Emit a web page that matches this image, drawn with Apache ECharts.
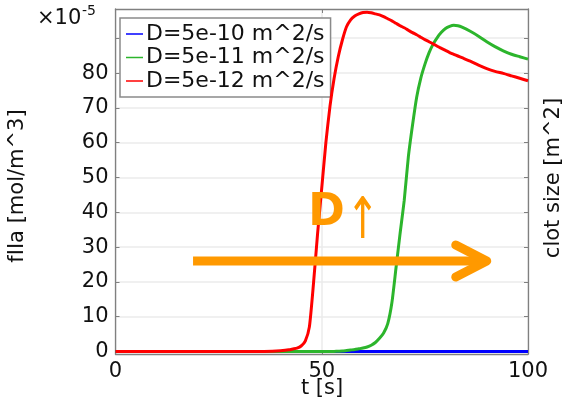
<!DOCTYPE html>
<html>
<head>
<meta charset="utf-8">
<script src="https://cdn.jsdelivr.net/npm/echarts@6/dist/echarts.min.js"></script>
<style>
  html, body { margin: 0; padding: 0; background: #fff; }
  #chart { width: 566px; height: 405px; }
</style>
</head>
<body>
<div id="chart"></div>
<script>
// Time samples (s)
const times = [0, 10, 20, 30, 36, 38, 40, 42, 43, 44, 45, 46, 47, 48, 49, 50, 51, 52, 53, 54, 55, 56, 57, 58, 59, 60, 61, 62, 63, 64, 65, 66, 67, 68, 69, 70, 71, 72, 73, 74, 75, 76, 77, 78, 79, 80, 81, 82, 83, 84, 86, 88, 90, 92, 94, 96, 98, 100];

// fIIa concentration, in units of 1e-5 mol/m^3
const fIIa_D5e10 = times.map(() => 0);
const fIIa_D5e11 = [0, 0, 0, 0, 0, 0, 0, 0, 0, 0, 0, 0, 0, 0, 0, 0, 0, 0, 0.05, 0.1, 0.15, 0.3, 0.45, 0.6, 0.8, 1.0, 1.3, 1.8, 2.6, 3.8, 5.3, 8.0, 14, 24, 34, 43.5, 56, 65, 73, 78.5, 82.5, 85.8, 88.3, 90.2, 91.7, 92.8, 93.4, 93.7, 93.6, 93.2, 92.0, 90.6, 89.0, 87.6, 86.4, 85.4, 84.7, 84.0];
const fIIa_D5e12 = [0, 0, 0, 0, 0.05, 0.1, 0.25, 0.5, 0.75, 1.0, 1.6, 3.0, 7.1, 19.6, 34, 47, 60, 70.5, 78.5, 84.7, 89.5, 93.3, 95.3, 96.4, 97.0, 97.4, 97.5, 97.3, 97.0, 96.7, 96.2, 95.6, 95.0, 94.3, 93.6, 93.0, 92.3, 91.6, 91.0, 90.3, 89.6, 89.0, 88.4, 87.7, 87.1, 86.5, 85.9, 85.4, 84.9, 84.4, 83.4, 82.3, 81.3, 80.5, 79.9, 79.2, 78.5, 77.8];

const seriesNames = ['D=5e-10 m^2/s', 'D=5e-11 m^2/s', 'D=5e-12 m^2/s'];
const seriesColors = ['#0000ff', '#2cb52c', '#ff0000'];

// Axis ticks
const xTicks = [0, 50, 100];
const yTicks = [0, 10, 20, 30, 40, 50, 60, 70, 80, 90];
const yTickLabels = [0, 10, 20, 30, 40, 50, 60, 70, 80];

// Annotation: arrow showing the direction of increasing D (data coordinates)
const arrowFrom = [18.8, 26.0];
const arrowTo = [90.0, 26.0];
const dLabelAt = [46.7, 39.5];

const FONT = 'DejaVu Sans';
const AXIS_GRAY = '#808080';
const chart = echarts.init(document.getElementById('chart'), null, { renderer: 'canvas' });

const pairs = (vals) => times.map((t, i) => [t, vals[i]]);
const allSeries = [fIIa_D5e10, fIIa_D5e11, fIIa_D5e12];

chart.setOption({
  animation: false,
  backgroundColor: '#ffffff',
  textStyle: { fontFamily: FONT },
  grid: { left: 115.5, right: 38, top: 9, bottom: 51, containLabel: false },
  legend: {
    orient: 'vertical',
    left: 120, top: 18,
    data: seriesNames,
    icon: 'rect',
    itemWidth: 17, itemHeight: 1.5,
    itemGap: 1.5,
    padding: [5, 6, 5, 6],
    backgroundColor: '#ffffff',
    borderColor: '#8a8a8a', borderWidth: 1.5, borderRadius: 0,
    textStyle: { fontFamily: FONT, fontSize: 22, color: '#111', lineHeight: 22, padding: [0, 0, 0, -2] }
  },
  xAxis: [
    {
      type: 'value', min: 0, max: 100, interval: 50, position: 'bottom',
      axisLine: { show: true, onZero: false, lineStyle: { color: AXIS_GRAY, width: 1.3 } },
      axisTick: { show: true, inside: true, length: 4, lineStyle: { color: AXIS_GRAY } },
      axisLabel: { fontFamily: FONT, fontSize: 21, color: '#111', margin: 7 },
      splitLine: { show: true, lineStyle: { color: '#ebebeb', width: 1.5 } }
    },
    {
      type: 'value', min: 0, max: 100, interval: 50, position: 'top',
      axisLine: { show: true, onZero: false, lineStyle: { color: AXIS_GRAY, width: 1.3 } },
      axisTick: { show: true, inside: true, length: 4, lineStyle: { color: AXIS_GRAY } },
      axisLabel: { show: false },
      splitLine: { show: false }
    }
  ],
  yAxis: [
    {
      type: 'value', min: -0.7, max: 98.4, position: 'left',
      axisLine: { show: true, onZero: false, lineStyle: { color: AXIS_GRAY, width: 1.3 } },
      axisTick: { show: true, inside: true, length: 4, customValues: yTicks, lineStyle: { color: AXIS_GRAY } },
      axisLabel: { fontFamily: FONT, fontSize: 21, color: '#111', margin: 7, customValues: yTickLabels },
      splitLine: { show: true, lineStyle: { color: '#ebebeb', width: 1.5 } }
    },
    {
      type: 'value', min: -0.7, max: 98.4, position: 'right',
      axisLine: { show: true, onZero: false, lineStyle: { color: AXIS_GRAY, width: 1.3 } },
      axisTick: { show: true, inside: true, length: 4, customValues: yTicks, lineStyle: { color: AXIS_GRAY } },
      axisLabel: { show: false },
      splitLine: { show: false }
    }
  ],
  series: allSeries.map((vals, i) => ({
    name: seriesNames[i],
    type: 'line',
    xAxisIndex: 0, yAxisIndex: 0,
    data: pairs(vals),
    showSymbol: false,
    smooth: 0.2,
    lineStyle: { color: seriesColors[i], width: 3 },
    itemStyle: { color: seriesColors[i] },
    z: 2 + i
  }))
});

// Annotations placed from data coordinates
const toPx = (p) => chart.convertToPixel({ gridIndex: 0 }, p);
const a0 = toPx(arrowFrom);
const a1 = toPx(arrowTo);
const dl = toPx(dLabelAt);
const ORANGE = '#ff9900';

chart.setOption({
  graphic: [
    // axis titles and exponent
    { type: 'text', left: 37, top: 8, style: { text: '×10', font: '21px "DejaVu Sans"', fill: '#111' } },
    { type: 'text', left: 82, top: 4, style: { text: '-5', font: '14px "DejaVu Sans"', fill: '#111' } },
    { type: 'text', x: 322, y: 389, style: { text: 't [s]', font: '21px "DejaVu Sans"', fill: '#111', align: 'center', verticalAlign: 'middle' } },
    { type: 'text', x: 18, y: 186, rotation: Math.PI / 2, style: { text: 'fIIa [mol/m^3]', font: '21px "DejaVu Sans"', fill: '#111', align: 'center', verticalAlign: 'middle' } },
    { type: 'text', x: 554, y: 178, rotation: Math.PI / 2, style: { text: 'clot size [m^2]', font: '21px "DejaVu Sans"', fill: '#111', align: 'center', verticalAlign: 'middle' } },
    // D-increase arrow
    { type: 'line', z: 50, shape: { x1: a0[0], y1: a0[1], x2: a1[0] - 4, y2: a1[1] }, style: { stroke: ORANGE, lineWidth: 9, lineCap: 'butt' } },
    { type: 'polyline', z: 50, shape: { points: [[a1[0] - 31, a1[1] - 16], [a1[0], a1[1]], [a1[0] - 31, a1[1] + 16]] }, style: { stroke: ORANGE, lineWidth: 9, lineCap: 'round', lineJoin: 'round', fill: null } },
    { type: 'text', z: 50, x: dl[0], y: dl[1], style: { text: 'D', font: 'bold 44px "DejaVu Sans"', fill: ORANGE, align: 'left', verticalAlign: 'middle' } },
    { type: 'text', z: 50, x: dl[0] + 38, y: dl[1] + 9, scaleX: 0.9, scaleY: 1.3, style: { text: '↑', font: '44px "DejaVu Sans"', fill: ORANGE, align: 'left', verticalAlign: 'middle' } }
  ]
});
</script>
</body>
</html>
